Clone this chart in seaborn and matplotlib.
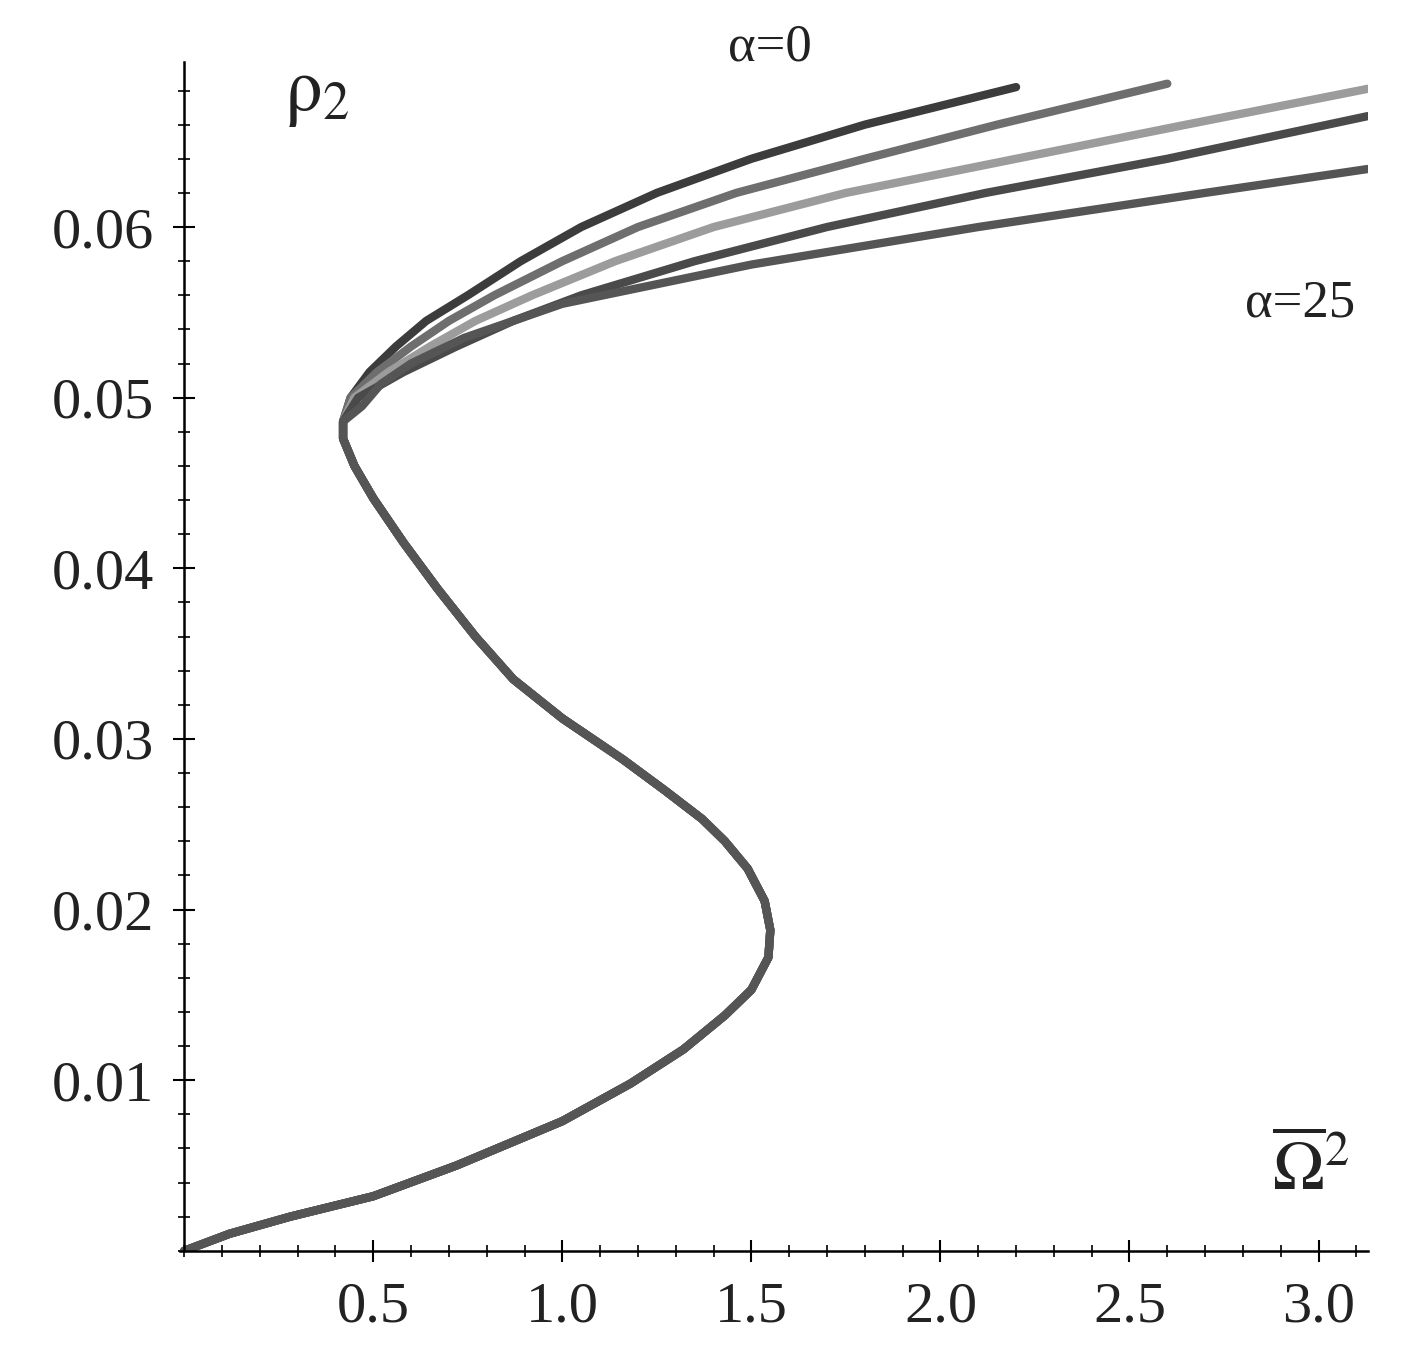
import numpy as np
import pandas as pd
import matplotlib
matplotlib.use("Agg")
import matplotlib.pyplot as plt
import seaborn as sns
from matplotlib.ticker import MultipleLocator

sns.set_style("white")
plt.rcParams['font.family'] = ['Liberation Serif', 'DejaVu Serif']
plt.rcParams['mathtext.fontset'] = 'stix'

# shared lower branch (rho, Omega^2)
lower_rho = [0.0, 0.001, 0.002, 0.0032, 0.005, 0.0076, 0.0098, 0.0118, 0.0138, 0.0153, 0.0172, 0.0188,
             0.0205, 0.0224, 0.024, 0.0253, 0.027, 0.0288, 0.0312, 0.0335, 0.036, 0.0388, 0.0415, 0.0441,
             0.046, 0.0476, 0.0486]
lower_x   = [0.0, 0.12, 0.28, 0.5, 0.72, 1.0, 1.18, 1.32, 1.43, 1.5, 1.545, 1.55,
             1.535, 1.49, 1.43, 1.37, 1.27, 1.16, 1.0, 0.87, 0.77, 0.67, 0.58, 0.5,
             0.45, 0.42, 0.42]

upper_rho = [
    [0.050, 0.0515, 0.053, 0.0545, 0.056, 0.058, 0.060, 0.062, 0.064, 0.066, 0.0682],
    [0.050, 0.0515, 0.053, 0.0545, 0.056, 0.058, 0.060, 0.062, 0.064, 0.066, 0.0684],
    [0.050, 0.0515, 0.053, 0.0545, 0.056, 0.058, 0.060, 0.062, 0.064, 0.066, 0.0681],
    [0.050, 0.0515, 0.053, 0.0545, 0.056, 0.058, 0.060, 0.062, 0.064, 0.0665],
    [0.0495, 0.0508, 0.052, 0.0535, 0.0555, 0.0578, 0.060, 0.062, 0.0634],
]
upper_x = [
    [0.44, 0.49, 0.56, 0.64, 0.75, 0.89, 1.05, 1.25, 1.5, 1.8, 2.2],
    [0.44, 0.51, 0.60, 0.70, 0.82, 1.00, 1.20, 1.46, 1.8, 2.15, 2.6],
    [0.45, 0.54, 0.65, 0.77, 0.92, 1.14, 1.40, 1.75, 2.2, 2.65, 3.13],
    [0.46, 0.58, 0.72, 0.87, 1.05, 1.35, 1.70, 2.12, 2.6, 3.13],
    [0.47, 0.52, 0.60, 0.74, 1.00, 1.50, 2.10, 2.70, 3.13],
]
colors = ["#3c3c3c", "#6e6e6e", "#9c9c9c", "#4a4a4a", "#555555"]

fig, ax = plt.subplots(figsize=(14.1, 13.67), dpi=100)
fig.subplots_adjust(left=0.128, right=0.97, bottom=0.085, top=0.955)

for i in range(len(upper_x)):
    df = pd.DataFrame({"x": lower_x + upper_x[i], "y": lower_rho + upper_rho[i]})
    sns.lineplot(data=df, x="x", y="y", sort=False, ax=ax, color=colors[i], linewidth=6,
                 estimator=None, solid_capstyle='round', solid_joinstyle='round')

ax.set_xlim(-0.01, 3.13)
ax.set_ylim(0, 0.0697)
ax.spines['left'].set_position(('data', 0))
ax.spines['bottom'].set_position(('data', 0))
ax.spines['top'].set_visible(False)
ax.spines['right'].set_visible(False)
for s in ['left', 'bottom']:
    ax.spines[s].set_linewidth(1.8)
    ax.spines[s].set_color('black')
ax.set_xticks([0.5, 1.0, 1.5, 2.0, 2.5, 3.0])
ax.set_xticklabels(["0.5", "1.0", "1.5", "2.0", "2.5", "3.0"])
ax.set_yticks([0.01, 0.02, 0.03, 0.04, 0.05, 0.06])
ax.set_yticklabels(["0.01", "0.02", "0.03", "0.04", "0.05", "0.06"])
ax.xaxis.set_minor_locator(MultipleLocator(0.1))
ax.yaxis.set_minor_locator(MultipleLocator(0.002))
ax.tick_params(axis='both', which='both', bottom=True, left=True, colors='black')
ax.tick_params(axis='both', which='major', direction='inout', length=16, width=1.5, labelsize=42, pad=14, labelcolor='#222222')
ax.tick_params(axis='both', which='minor', direction='inout', length=8, width=1.2)
ax.set_xlabel("")
ax.set_ylabel("")

ax.text(0.35, 0.0677, r"$\mathrm{\rho}_2$", fontsize=54, ha='center', va='center', color='#222222')
ax.text(2.98, 0.0047, r"$\overline{\Omega}^2$", fontsize=50, ha='center', va='center', color='#222222')
ax.text(1.55, 0.0705, "α=0", fontsize=38, ha='center', va='center', color='#222222')
ax.text(2.95, 0.0555, "α=25", fontsize=38, ha='center', va='center', color='#222222')

fig.savefig("out.png", dpi=100)
